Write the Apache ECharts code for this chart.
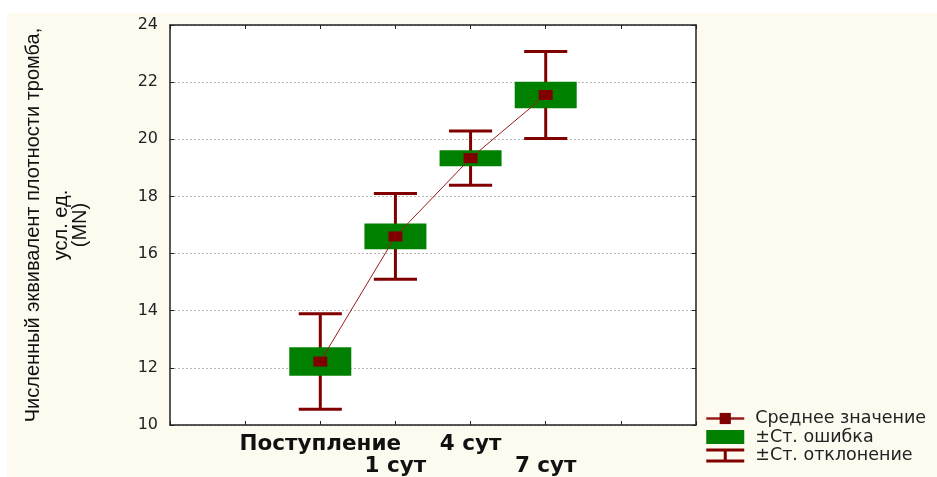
<!DOCTYPE html>
<html><head><meta charset="utf-8">
<script src="https://cdn.jsdelivr.net/npm/echarts@6/dist/echarts.min.js"></script>
<style>html,body{margin:0;padding:0;background:#fff;}#c{position:absolute;left:7px;top:13px;width:930px;height:464px;background:#fdfaf0;}</style>
</head><body><div id="c"></div>
<script>
// ---- data ----
const categories = ['Поступление', '1 сут', '4 сут', '7 сут'];
const meanValues = [12.22, 16.6, 19.34, 21.55];
const seValues = [0.5, 0.45, 0.28, 0.46];
const sdValues = [1.67, 1.5, 0.95, 1.52];
const yAxisMin = 10, yAxisMax = 24, yAxisStep = 2;
const seriesNames = ['Среднее значение', '±Ст. ошибка', '±Ст. отклонение'];
const yTitleLines = ['Численный эквивалент плотности тромба,', 'усл. ед.', '(MN)'];

// ---- styles ----
const GREEN = '#008000';
const DARK = '#800000';
const LINE = '#9a1b1b';
const FRAME = '#222';

const points = categories.map((c, i) => [i + 1, meanValues[i], seValues[i], sdValues[i]]);

const chart = echarts.init(document.getElementById('c'), null, {renderer: 'canvas'});

const frameAxisLine = {show: true, onZero: false, lineStyle: {color: FRAME, width: 1.5}};
const innerTick = {show: true, inside: true, length: 4, lineStyle: {color: FRAME, width: 1}};

chart.setOption({
  backgroundColor: '#fdfaf0',
  animation: false,
  grid: {left: 163, top: 12, right: 241, bottom: 51, show: true, backgroundColor: '#ffffff', borderWidth: 0},
  xAxis: [{
    type: 'value', position: 'bottom', min: -1, max: categories.length + 2, interval: 1,
    axisLine: frameAxisLine, axisTick: innerTick, splitLine: {show: false},
    axisLabel: {
      margin: 8, fontFamily: 'DejaVu Sans', fontWeight: 'bold', fontSize: 21.5, lineHeight: 22, color: '#111',
      formatter: v => {
        const i = Math.round(v) - 1;
        if (i < 0 || i >= categories.length) return '';
        return (i % 2 === 1 ? '\n' : '') + categories[i];
      }
    }
  }, {
    type: 'value', position: 'top', min: -1, max: categories.length + 2, interval: 1,
    axisLine: frameAxisLine, axisTick: innerTick, splitLine: {show: false}, axisLabel: {show: false}
  }],
  yAxis: [{
    type: 'value', position: 'left', min: yAxisMin, max: yAxisMax, interval: yAxisStep,
    axisLine: frameAxisLine, axisTick: innerTick,
    splitLine: {show: true, lineStyle: {color: '#b8b8b8', type: [2, 2], width: 1}},
    axisLabel: {margin: 12, fontFamily: 'DejaVu Sans', fontSize: 16, color: '#222'}
  }, {
    type: 'value', position: 'right', min: yAxisMin, max: yAxisMax, interval: yAxisStep,
    axisLine: frameAxisLine, axisTick: innerTick, splitLine: {show: false}, axisLabel: {show: false}
  }],
  legend: {
    orient: 'vertical', left: 698, top: 396.5, padding: 0, itemGap: 0.5,
    itemWidth: 38, itemHeight: 14,
    textStyle: {fontFamily: 'DejaVu Sans', fontSize: 17.5, color: '#222', padding: [0, 0, 0, 6]},
    lineStyle: {width: 2.5},
    data: [
      {name: seriesNames[0]},
      {name: seriesNames[1], icon: 'rect'},
      {name: seriesNames[2], icon: 'path://M0,0H38V3H20.5V11H38V14H0V11H17.5V3H0Z'}
    ]
  },
  graphic: yTitleLines.map((t, i) => ({
    type: 'text',
    x: [26, 54, 73.5][i], y: 212,
    rotation: Math.PI / 2,
    style: {text: t, fontFamily: 'Liberation Sans', fontSize: 20, fill: '#111', align: 'center', verticalAlign: 'middle'}
  })),
  series: [{
    name: seriesNames[2], type: 'custom', data: points, z: 2,
    itemStyle: {color: DARK},
    encode: {x: 0, y: 1},
    renderItem: (params, api) => {
      const x = api.value(0), m = api.value(1), d = api.value(3);
      const top = api.coord([x, m + d]), bot = api.coord([x, m - d]);
      const hw = api.size([1, 0])[0] * 0.287;
      const st = {stroke: DARK, lineWidth: 3, fill: null};
      return {type: 'group', children: [
        {type: 'line', shape: {x1: top[0], y1: top[1], x2: bot[0], y2: bot[1]}, style: st},
        {type: 'line', shape: {x1: top[0] - hw, y1: top[1], x2: top[0] + hw, y2: top[1]}, style: st},
        {type: 'line', shape: {x1: bot[0] - hw, y1: bot[1], x2: bot[0] + hw, y2: bot[1]}, style: st}
      ]};
    }
  }, {
    name: seriesNames[1], type: 'custom', data: points, z: 3,
    itemStyle: {color: GREEN},
    encode: {x: 0, y: 1},
    renderItem: (params, api) => {
      const x = api.value(0), m = api.value(1), s = api.value(2);
      const p1 = api.coord([x, m + s]), p2 = api.coord([x, m - s]);
      const w = api.size([1, 0])[0] * 0.825;
      return {type: 'rect', shape: {x: p1[0] - w / 2, y: p1[1], width: w, height: p2[1] - p1[1]}, style: {fill: GREEN}};
    }
  }, {
    name: seriesNames[0], type: 'line', data: points.map(p => [p[0], p[1]]), z: 4,
    symbol: 'rect', symbolSize: [14, 10],
    itemStyle: {color: DARK},
    lineStyle: {color: LINE, width: 1}
  }]
});
</script>
</body></html>
